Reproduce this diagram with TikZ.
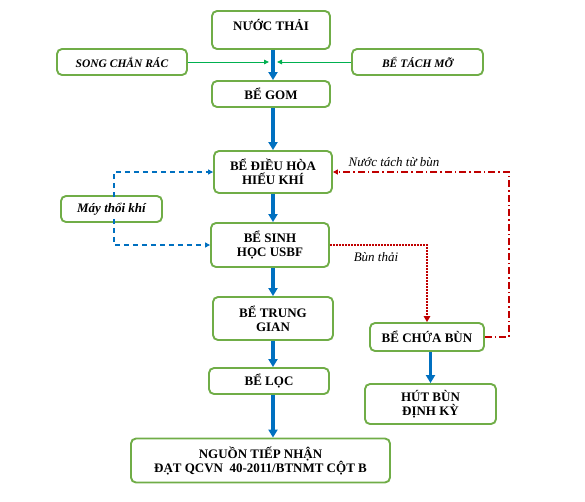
\documentclass[tikz,border=0pt]{standalone}
\usepackage{fontspec}
\setmainfont{Liberation Serif}
\usetikzlibrary{arrows.meta,positioning}
\definecolor{boxgreen}{RGB}{112,173,71}
\definecolor{flowblue}{RGB}{0,112,192}
\definecolor{thingreen}{RGB}{0,176,80}
\definecolor{sludgered}{RGB}{192,0,0}
\tikzset{
  box/.style={draw=boxgreen, line width=1.9pt, rounded corners=5pt, fill=white,
    align=center, inner sep=1pt, font=\fontsize{13}{14}\selectfont\bfseries},
  sidebox/.style={box, font=\fontsize{11.5}{13}\selectfont\bfseries\itshape},
  mainarrow/.style={draw=flowblue, line width=3.2pt, -{Triangle[length=8pt,width=9pt]}},
  greenarrow/.style={draw=thingreen, line width=0.9pt, -{Triangle[length=5pt,width=4.5pt]}},
  airline/.style={draw=flowblue, line width=1.3pt, dash pattern=on 5pt off 4pt, -{Triangle[length=5pt,width=5pt]}},
  sludgeline/.style={draw=sludgered, line width=2.2pt, dash pattern=on 1.6pt off 1.4pt, -{Triangle[length=6pt,width=6.5pt]}},
  returnline/.style={draw=sludgered, line width=1.3pt, dash pattern=on 7pt off 3pt on 1.5pt off 3pt, -{Triangle[length=5pt,width=5pt]}},
  flowlabel/.style={font=\fontsize{13}{14}\selectfont\itshape, inner sep=0pt}
}
\begin{document}
\begin{tikzpicture}[x=1pt,y=-1pt]
\useasboundingbox (0,0) rectangle (585,501);
\fill[white] (0,0) rectangle (585,501);
% trunk and return coordinates
\coordinate (trunk) at (273,0);
\coordinate (rt) at (509,0);
% nodes
\node[box, minimum width=118pt, minimum height=38pt] (nt) at (271,30) {NƯỚC THẢI\\[-4pt]\mbox{}};
\node[sidebox, minimum width=130pt, minimum height=26pt] (scr) at (122,62) {SONG CHẮN RÁC};
\node[sidebox, minimum width=131pt, minimum height=26pt] (btm) at (417.5,62) {BỂ TÁCH MỠ};
\node[box, minimum width=118pt, minimum height=26pt] (gom) at (271,94) {BỂ GOM};
\node[box, minimum width=118pt, minimum height=42pt] (dh) at (273,172) {BỂ ĐIỀU HÒA\\HIẾU KHÍ};
\node[sidebox, font=\fontsize{13}{14}\selectfont\bfseries\itshape, minimum width=101pt, minimum height=26pt] (mtk) at (111.5,209) {Máy thổi khí};
\node[box, minimum width=118pt, minimum height=44pt] (sinh) at (270,245) {BỂ SINH\\HỌC USBF};
\node[box, minimum width=120pt, minimum height=43pt] (tg) at (273,318.5) {BỂ TRUNG\\GIAN};
\node[box, minimum width=120pt, minimum height=26pt] (loc) at (269,381) {BỂ LỌC};
\node[box, minimum width=259pt, minimum height=44pt] (ngu) at (260.5,460.5) {NGUỒN TIẾP NHẬN\\ĐẠT QCVN\ \ 40-2011/BTNMT CỘT B};
\node[box, minimum width=114pt, minimum height=28pt] (cb) at (427,337) {BỂ CHỨA BÙN};
\node[box, minimum width=131pt, minimum height=40pt] (hb) at (430.5,404) {HÚT BÙN\\ĐỊNH KỲ};
% green side inputs
\coordinate (gl) at (269,62);
\coordinate (gr) at (277,62);
\draw[greenarrow] (scr.east) -- (gl);
\draw[greenarrow] (btm.west) -- (gr);
% main flow
\draw[mainarrow] (nt.south -| trunk) -- (gom.north -| trunk);
\draw[mainarrow] (gom.south -| trunk) -- (dh.north -| trunk);
\draw[mainarrow] (dh.south -| trunk) -- (sinh.north -| trunk);
\draw[mainarrow] (sinh.south -| trunk) -- (tg.north -| trunk);
\draw[mainarrow] (tg.south -| trunk) -- (loc.north -| trunk);
\draw[mainarrow] (loc.south -| trunk) -- (ngu.north -| trunk);
\draw[mainarrow] (cb.south -| hb.north) -- (hb.north);
% air
\draw[airline] ([xshift=2.5pt,yshift=-2pt]mtk.north) |- (dh.west);
\draw[airline] ([xshift=2.5pt,yshift=4pt]mtk.south) |- (sinh.west);
% sludge
\draw[sludgeline] (sinh.east) -| (cb.north);
\node[flowlabel] (lbt) at (376,257) {Bùn thải};
% return water
\draw[returnline] (cb.east) -- (cb.east -| rt) -- (dh.east -| rt) -- (dh.east);
\node[flowlabel] (lnt) at (394,162) {Nước tách từ bùn};
\end{tikzpicture}
\end{document}
